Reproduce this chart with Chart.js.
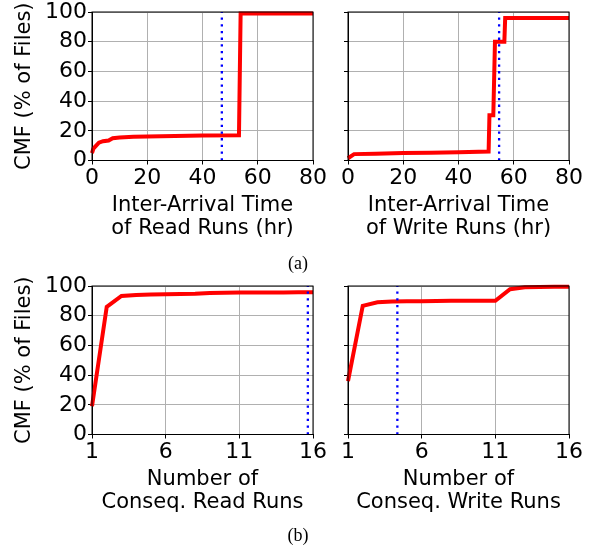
<!DOCTYPE html>
<html>
<head>
<meta charset="utf-8">
<script src="https://cdn.jsdelivr.net/npm/chart.js@4"></script>
<style>
body { margin: 0; background: #fff; }
#wrap { position: relative; width: 594px; height: 550px; }
.box { position: absolute; }
.cap { position: absolute; font-family: "Liberation Serif", serif; font-size: 18px; color: #000; transform: translate(-50%, -50%); }
</style>
</head>
<body>
<div id="wrap">
  <div class="box" style="left:320px;top:0;width:274px;height:250px"><canvas id="writeGap"></canvas></div>
  <div class="box" style="left:0;top:0;width:340px;height:250px"><canvas id="readGap"></canvas></div>
  <div class="box" style="left:320px;top:274px;width:274px;height:250px"><canvas id="writeRun"></canvas></div>
  <div class="box" style="left:0;top:274px;width:340px;height:250px"><canvas id="readRun"></canvas></div>
  <div class="cap" style="left:298px;top:263px">(a)</div>
  <div class="cap" style="left:298px;top:535px">(b)</div>
</div>
<script>
// values
var gapTicks = [0, 20, 40, 60, 80];
var runTicks = [1, 6, 11, 16];
var cmfTicks = [0, 20, 40, 60, 80, 100];

var readGapX = [0, 0.5, 1.5, 2.5, 4, 6, 7.5, 10, 15, 20, 30, 40, 53.2, 53.8, 80];
var readGapY = [5, 8, 10, 12, 13, 13.5, 15, 15.5, 16, 16.2, 16.5, 16.8, 17, 99, 99];
var writeGapX = [0, 2.2, 10, 20, 30, 40, 50.9, 51.2, 52.6, 53.2, 56.6, 56.9, 80];
var writeGapY = [1.5, 4.3, 4.6, 5, 5.3, 5.6, 6, 30.5, 30.5, 80, 80, 96, 96];

var runX = [1, 2, 3, 4, 5, 6, 7, 8, 9, 10, 11, 12, 13, 14, 15, 16];
var readRunY = [19, 86, 93.3, 94, 94.3, 94.5, 94.6, 94.8, 95.3, 95.5, 95.6, 95.6, 95.7, 95.7, 95.8, 95.8];
var writeRunY = [36, 86.6, 89, 89.5, 89.7, 89.8, 89.9, 90, 90, 90, 90, 97.8, 99.2, 99.4, 99.5, 99.5];

var readGapMark = 47;
var writeGapMark = 54.7;
var readRunMark = 15.65;
var writeRunMark = 4.35;

Chart.defaults.color = "#000";
Chart.defaults.font.family = "'DejaVu Sans', sans-serif";

// box round the plot area (matplotlib style)
var frame = {
    id: "frame",
    afterDraw: function (chart) {
        var a = chart.chartArea, c = chart.ctx;
        c.save();
        c.strokeStyle = "#000";
        c.lineWidth = 1;
        c.strokeRect(a.left, a.top, a.right - a.left, a.bottom - a.top);
        c.restore();
    }
};

function drawCmf(id, xs, ys, mark, xMin, xMax, xTicks, xTitle, left) {
    var pts = [];
    for (var i = 0; i < xs.length; i++) pts.push({x: xs[i], y: ys[i]});

    new Chart(id, {
        type: "line",
        data: {
            datasets: [{
                data: [{x: mark, y: 0}, {x: mark, y: 100}],
                borderColor: "#0000ff",
                borderWidth: 2.3,
                borderDash: [2.3, 4.4],
                pointRadius: 0
            }, {
                data: pts,
                borderColor: "#ff0000",
                borderWidth: 4,
                lineTension: 0,
                pointRadius: 0,
                clip: false
            }]
        },
        options: {
            responsive: true,
            maintainAspectRatio: false,
            animation: false,
            layout: {padding: {top: 12, right: left ? 27 : 25, left: 0, bottom: 0}},
            plugins: {legend: {display: false}, tooltip: {enabled: false}},
            scales: {
                x: {
                    type: "linear",
                    min: xMin,
                    max: xMax,
                    afterBuildTicks: function (s) { s.ticks = xTicks.map(function (v) { return {value: v}; }); },
                    afterFit: function (s) { s.height = 89.5; s.paddingLeft = 0; s.paddingRight = 0; },
                    grid: {color: "#b0b0b0", tickColor: "#000", tickLength: 4},
                    border: {color: "#000"},
                    ticks: {font: {size: 22}, padding: 1, maxRotation: 0},
                    title: {display: true, text: xTitle, font: {size: 21, lineHeight: 1.1}, padding: {top: 2, bottom: 10}}
                },
                y: {
                    min: 0,
                    max: 100,
                    afterBuildTicks: function (s) { s.ticks = cmfTicks.map(function (v) { return {value: v}; }); },
                    afterFit: function (s) { s.width = left ? 92 : 28; s.paddingTop = 0; s.paddingBottom = 0; },
                    grid: {color: "#b0b0b0", tickColor: "#000", tickLength: 4},
                    border: {color: "#000"},
                    ticks: {font: {size: 22}, padding: 1, callback: function (v) { return left ? v : ""; }},
                    title: {display: left, text: "CMF (% of Files)", font: {size: 21, lineHeight: 1.1}, padding: {top: 13, bottom: 0}}
                }
            }
        },
        plugins: [frame]
    });
}

document.addEventListener("DOMContentLoaded", function () {
    drawCmf("readGap", readGapX, readGapY, readGapMark, 0, 80, gapTicks, ["Inter-Arrival Time", "of Read Runs (hr)"], true);
    drawCmf("writeGap", writeGapX, writeGapY, writeGapMark, 0, 80, gapTicks, ["Inter-Arrival Time", "of Write Runs (hr)"], false);
    drawCmf("readRun", runX, readRunY, readRunMark, 1, 16, runTicks, ["Number of", "Conseq. Read Runs"], true);
    drawCmf("writeRun", runX, writeRunY, writeRunMark, 1, 16, runTicks, ["Number of", "Conseq. Write Runs"], false);
});
</script>
</body>
</html>
